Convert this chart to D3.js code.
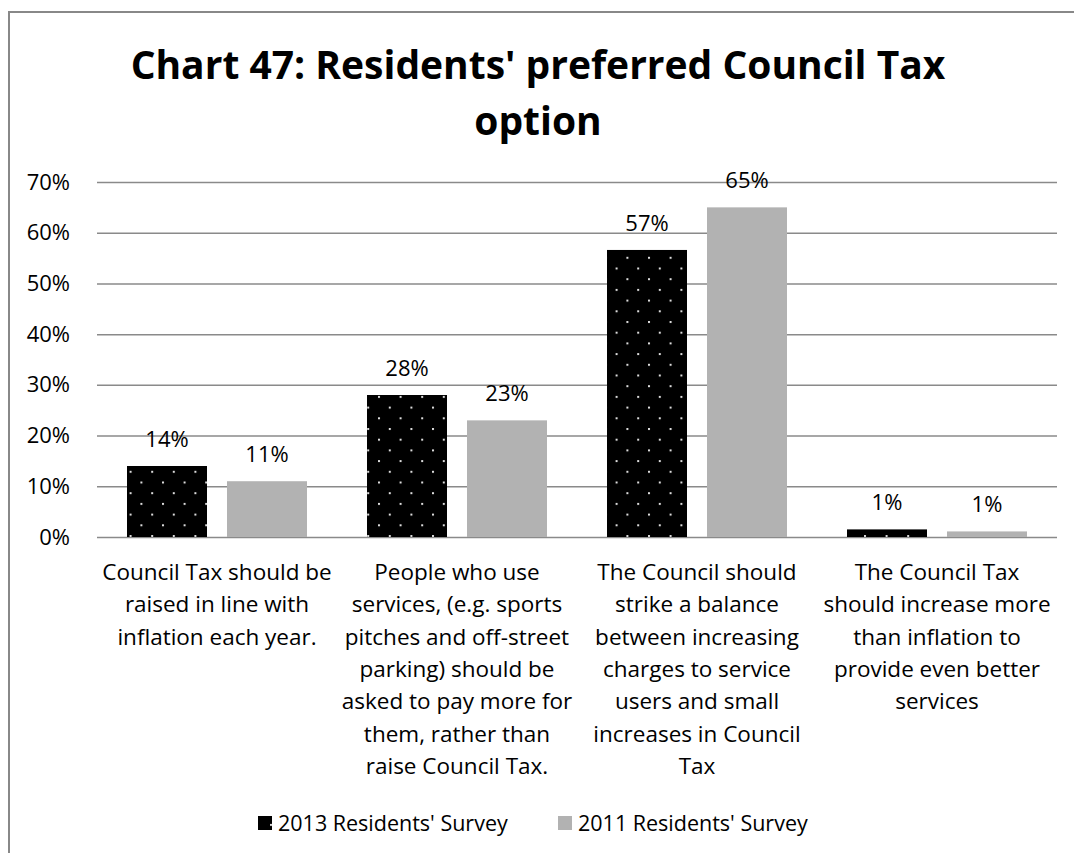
<!DOCTYPE html>
<html><head><meta charset="utf-8">
<script src="https://cdn.jsdelivr.net/npm/d3@7"></script>
<style>body{margin:0;background:#fff}svg{display:block}text{font-family:"Open Sans",sans-serif}</style>
</head><body><svg id="c" width="1074" height="853"></svg>
<script>
const categories = [
  ["Council Tax should be","raised in line with","inflation each year."],
  ["People who use","services, (e.g. sports","pitches and off-street","parking) should be","asked to pay more for","them, rather than","raise Council Tax."],
  ["The Council should","strike a balance","between increasing","charges to service","users and small","increases in Council","Tax"],
  ["The Council Tax","should increase more","than inflation to","provide even better","services"]
];
const seriesNames = ["2013 Residents' Survey","2011 Residents' Survey"];
const values2013 = [14, 28, 56.6, 1.5];
const values2011 = [11, 23, 65, 1.1];
const labels2013 = ["14%","28%","57%","1%"];
const labels2011 = ["11%","23%","65%","1%"];
const yTicks = [0,10,20,30,40,50,60,70];
const titleLines = ["Chart 47: Residents' preferred Council Tax","option"];

const svg = d3.select("#c");
const defs = svg.append("defs");
const pat = defs.append("pattern").attr("id","dots").attr("patternUnits","userSpaceOnUse")
  .attr("width",21.6).attr("height",21.4);
pat.append("rect").attr("width",21.6).attr("height",21.4).attr("fill","#000");
pat.append("rect").attr("x",0).attr("y",0).attr("width",2).attr("height",2).attr("fill","#ddd");
pat.append("rect").attr("x",10.8).attr("y",10.7).attr("width",2).attr("height",2).attr("fill","#ddd");

// border
svg.append("rect").attr("x",9).attr("y",12).attr("width",1100).attr("height",900)
  .attr("fill","none").attr("stroke","#888").attr("stroke-width",2);

// title
svg.append("g").selectAll("text").data(titleLines).join("text")
  .attr("x",538).attr("y",(d,i)=>79+i*56).attr("text-anchor","middle")
  .attr("font-size",39).attr("font-weight","bold").attr("fill","#000").text(d=>d);

const pLeft=97, pRight=1057, pTop=182, pBottom=537;
const y = d3.scaleLinear().domain([0,70]).range([pBottom,pTop]);
const x0 = d3.scaleBand().domain(d3.range(categories.length)).range([pLeft,pRight]);
const x1 = d3.scaleBand().domain([0,1]).range([0,x0.bandwidth()]).paddingInner(0.2).paddingOuter(0.3);

// gridlines + y labels
const yAxis = d3.axisLeft(y).tickValues(yTicks).tickSize(-(pRight-pLeft)).tickFormat(d=>d+"%").tickPadding(27);
const ga = svg.append("g").attr("transform",`translate(${pLeft},0)`).call(yAxis);
ga.select(".domain").remove();
ga.selectAll(".tick line").attr("stroke","#8a8a8a").attr("stroke-width",1.5);
ga.selectAll(".tick text").attr("font-size",22).attr("fill","#000").attr("font-family","'Open Sans', sans-serif");

// bars
const series = [{vals:values2013, labs:labels2013, fill:"url(#dots)"},{vals:values2011, labs:labels2011, fill:"#b2b2b2"}];
series.forEach((s,si)=>{
  const g = svg.append("g");
  g.selectAll("rect").data(s.vals).join("rect")
    .attr("x",(d,i)=>x0(i)+x1(si)).attr("width",x1.bandwidth())
    .attr("y",d=>y(d)).attr("height",d=>y(0)-y(d)).attr("fill",s.fill);
  g.selectAll("text").data(s.vals).join("text")
    .attr("x",(d,i)=>x0(i)+x1(si)+x1.bandwidth()/2).attr("y",d=>y(d)-19)
    .attr("text-anchor","middle").attr("font-size",22).attr("fill","#000")
    .text((d,i)=>s.labs[i]);
});

// category labels
const cg = svg.append("g");
categories.forEach((lines,i)=>{
  cg.append("g").selectAll("text").data(lines).join("text")
    .attr("x",x0(i)+x0.bandwidth()/2).attr("y",(d,j)=>580+j*32.3)
    .attr("text-anchor","middle").attr("font-size",22.5).attr("fill","#000").text(d=>d);
});

// legend
const leg = svg.append("g");
const legX = [258, 558];
seriesNames.forEach((n,i)=>{
  leg.append("rect").attr("x",legX[i]).attr("y",816).attr("width",14).attr("height",14)
    .attr("fill", i===0 ? "url(#dots)" : "#b2b2b2");
  leg.append("text").attr("x",legX[i]+20).attr("y",831).attr("font-size",21.5).attr("fill","#000").text(n);
});
</script></body></html>
